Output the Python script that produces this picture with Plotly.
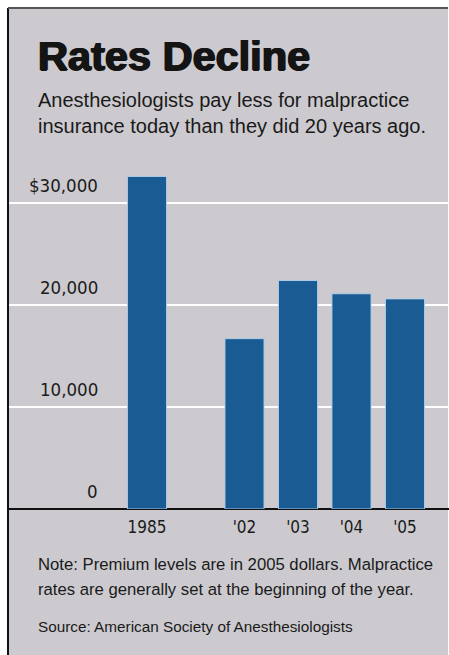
import plotly.graph_objects as go

# ---- data ----
first_year = ["1985"]
first_value = [32600]
recent_years = ["'02", "'03", "'04", "'05"]
recent_values = [16700, 22400, 21100, 20600]
y_tick_vals = [0, 10000, 20000, 30000]
y_tick_text = ["0", "10,000", "20,000", "$30,000"]

title = "Rates Decline"
subtitle = "Anesthesiologists pay less for malpractice<br>insurance today than they did 20 years ago."
note_lines = ["Note: Premium levels are in 2005 dollars. Malpractice",
              "rates are generally set at the beginning of the year."]
source = "Source: American Society of Anesthesiologists"

# ---- layout geometry (page pixels; body margin removed via post_script) ----
W, H = 449, 655
FRAME_L, FRAME_T = 8, 8
BASE_Y, TOP_Y = 509, 162.2
Y_MAX = 34000
SLOT = 53.5
C1985, C02 = 147, 244.5

def px_x(p):
    return p / W

def px_y(p):
    return 1 - p / H

dom_w = W - FRAME_L
span = dom_w / SLOT
r1_lo = -(C1985 - FRAME_L) / SLOT
r2_lo = -(C02 - FRAME_L) / SLOT

BG = "#cccacf"
BAR = "#1b5b93"
TXT = "#1a1a1a"
COND = "DejaVu Sans Condensed, Liberation Sans, sans-serif"
SANS = "Liberation Sans, Arial, sans-serif"

fig = go.Figure()
bar_style = dict(marker=dict(color=BAR, line=dict(color="rgba(175,208,236,0.9)", width=1)),
                 hoverinfo="skip", showlegend=False)
fig.add_trace(go.Bar(x=first_year, y=first_value, xaxis="x", yaxis="y", **bar_style))
fig.add_trace(go.Bar(x=recent_years, y=recent_values, xaxis="x2", yaxis="y", **bar_style))

axis_x = dict(domain=[px_x(FRAME_L), 1], type="category", showgrid=False, zeroline=False,
              showline=False, ticks="", anchor="y", ticklabelstandoff=6,
              tickfont=dict(family=COND, size=17, color=TXT), fixedrange=True)

fig.update_layout(
    width=W, height=H,
    margin=dict(l=0, r=0, t=0, b=0),
    paper_bgcolor="white", plot_bgcolor="rgba(0,0,0,0)",
    bargap=0.27,
    xaxis=dict(axis_x, range=[r1_lo, r1_lo + span]),
    xaxis2=dict(axis_x, range=[r2_lo, r2_lo + span], overlaying="x"),
    yaxis=dict(domain=[px_y(BASE_Y), px_y(TOP_Y)], range=[0, Y_MAX],
               tickvals=y_tick_vals, showticklabels=False,
               showgrid=True, gridcolor="white", gridwidth=2,
               zeroline=True, zerolinecolor="#111111", zerolinewidth=2,
               showline=False, anchor="x", fixedrange=True),
    shapes=[
        dict(type="rect", xref="paper", yref="paper", x0=px_x(FRAME_L), x1=px_x(448),
             y0=0, y1=px_y(FRAME_T), fillcolor=BG, line=dict(width=0), layer="below"),
        dict(type="line", xref="paper", yref="paper", x0=px_x(FRAME_L), x1=px_x(FRAME_L),
             y0=0, y1=px_y(FRAME_T), line=dict(color="#111111", width=2)),
        dict(type="line", xref="paper", yref="paper", x0=px_x(FRAME_L), x1=px_x(448),
             y0=px_y(FRAME_T), y1=px_y(FRAME_T), line=dict(color="#555555", width=2)),
    ],
)

annotations = []
for v, t in zip(y_tick_vals, y_tick_text):
    annotations.append(dict(x=px_x(100), xref="paper", y=v, yref="y", text=t,
                            xanchor="right", yanchor="middle", yshift=18, showarrow=False,
                            font=dict(family=COND, size=18.5, color=TXT)))

annotations.append(dict(x=px_x(36), xref="paper", y=px_y(56), yref="paper", text=title,
                        xanchor="left", yanchor="middle", showarrow=False,
                        font=dict(family=SANS, size=41.5, color="#141414", weight="bold",
                                  shadow="0.9px 0 0 #141414, -0.9px 0 0 #141414, 0 0.6px 0 #141414")))
annotations.append(dict(x=px_x(36), xref="paper", y=px_y(113), yref="paper", text=subtitle,
                        xanchor="left", yanchor="middle", align="left", showarrow=False,
                        font=dict(family=SANS, size=20, color=TXT)))
for i, line in enumerate(note_lines):
    annotations.append(dict(x=px_x(36), xref="paper", y=px_y(564 + 25 * i), yref="paper", text=line,
                            xanchor="left", yanchor="middle", align="left", showarrow=False,
                            font=dict(family=SANS, size=16.7, color=TXT)))
annotations.append(dict(x=px_x(36), xref="paper", y=px_y(626), yref="paper", text=source,
                        xanchor="left", yanchor="middle", align="left", showarrow=False,
                        font=dict(family=SANS, size=15.3, color=TXT)))
fig.update_layout(annotations=annotations)

fig.write_html("out.html", config=dict(displayModeBar=False),
               post_script="document.body.style.margin='0';document.body.style.overflow='hidden';")
